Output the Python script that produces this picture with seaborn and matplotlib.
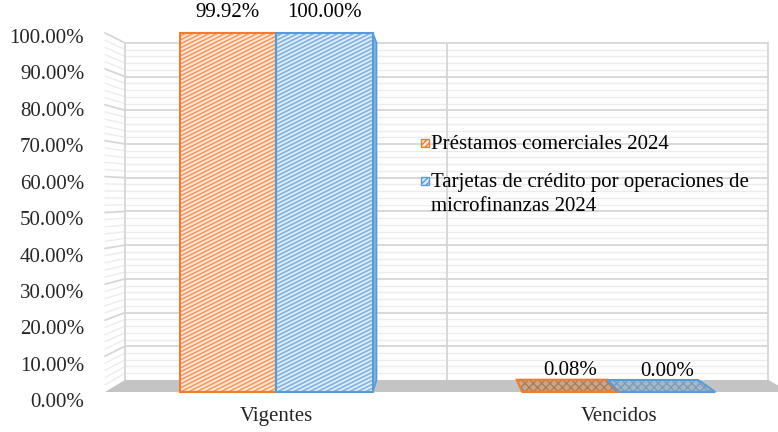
import numpy as np
import pandas as pd
import matplotlib
matplotlib.use("Agg")
import matplotlib.pyplot as plt
import seaborn as sns
from matplotlib.patches import Polygon, Rectangle
from matplotlib.lines import Line2D
from matplotlib.transforms import IdentityTransform, ScaledTranslation
from matplotlib.ticker import PercentFormatter, MultipleLocator

# ---- data -------------------------------------------------------------
categories = ["Vigentes", "Vencidos"]
series = ["Préstamos comerciales 2024",
          "Tarjetas de crédito por operaciones de microfinanzas 2024"]
legend_labels = ["Préstamos comerciales 2024",
                 "Tarjetas de crédito por operaciones de\nmicrofinanzas 2024"]
prestamos = [0.9992, 0.0008]
tarjetas = [1.0000, 0.0000]
y_ticks = [i / 10 for i in range(11)]

# ---- style ------------------------------------------------------------
edge_colors = ["#ED7D31", "#5B9BD5"]
face_colors = ["#fde6d6", "#dcebf8"]
side_colors = ["#f0a878", "#86b5e0"]
tile_colors = ["#c9a68b", "#a8b7c6"]
tile_hatch = ["#b07c55", "#7c9cbb"]
FS = 15

W, H, DPI = 778, 432, 100
sns.set_theme(style="white")
plt.rcParams["font.family"] = ["Liberation Serif", "DejaVu Serif"]
plt.rcParams["font.size"] = FS

df = pd.DataFrame({
    "Categoría": categories * 2,
    "Serie": [series[0]] * 2 + [series[1]] * 2,
    "Valor": prestamos + tarjetas,
})

fig = plt.figure(figsize=(W / DPI, H / DPI), dpi=DPI)
# front plane of the pseudo-3D box
ax = fig.add_axes([105 / W, (H - 392) / H, (790 - 105) / W, (392 - 33) / H])
sns.barplot(data=df, x="Categoría", y="Valor", hue="Serie",
            palette=face_colors, width=0.564, ax=ax, legend=False,
            errorbar=None, saturation=1)
ax.set_xlim(-0.5, 1.5)
ax.set_ylim(0, 1)
ax.set_xlabel("")
ax.set_ylabel("")
for sp in ax.spines.values():
    sp.set_visible(False)
ax.set_facecolor("none")
ax.yaxis.set_major_locator(MultipleLocator(0.1))
ax.yaxis.set_major_formatter(PercentFormatter(1.0, decimals=2))
ax.tick_params(axis="y", length=0, pad=15, labelsize=FS)
ax.tick_params(axis="x", length=0, pad=11, labelsize=FS)
ax.grid(False)

# perspective: points on the back plane shrink toward a vanishing point
VP = np.array([433.0, H - 195.0])
S = 0.939
ident = IdentityTransform()


def to_back(p):
    return VP + S * (np.asarray(p, float) - VP)


def disp(x, y):
    return ax.transData.transform((x, y))


# back wall, side wall and floor
x_lo, x_hi = ax.get_xlim()
floor = [disp(x_lo, 0), disp(x_hi, 0), to_back(disp(x_hi, 0)), to_back(disp(x_lo, 0))]
ax.add_patch(Polygon(floor, closed=True, transform=ident, facecolor="#c4c4c4",
                     edgecolor="none", zorder=0.3, clip_on=False))
for k in range(51):
    v = k / 50
    major = k % 5 == 0
    col = "#d6d6d6" if major else "#ececec"
    lw = 1.3 if major else 1.0
    fl, fr = disp(x_lo, v), disp(x_hi, v)
    bl, br = to_back(fl), to_back(fr)
    if k > 0:
        ax.add_line(Line2D([bl[0], br[0]], [bl[1], br[1]], transform=ident,
                           color=col, lw=lw, zorder=0.2, clip_on=False))
        ax.add_line(Line2D([fl[0], bl[0]], [fl[1], bl[1]], transform=ident,
                           color=col, lw=lw, zorder=0.2, clip_on=False))
for xv in (x_lo, 0.5, x_hi):
    b0, b1 = to_back(disp(xv, 0)), to_back(disp(xv, 1))
    ax.add_line(Line2D([b0[0], b1[0]], [b0[1], b1[1]], transform=ident,
                       color="#d6d6d6", lw=1.3, zorder=0.25, clip_on=False))


def add_stripes(patch, color):
    (x0, y0), (x1, y1) = ax.transData.transform(
        [(patch.get_x(), patch.get_y()),
         (patch.get_x() + patch.get_width(), patch.get_y() + patch.get_height())])
    if y1 - y0 < 2:
        return
    slope, step = 0.5, 4.0
    c = y0 - slope * x1
    while c < y1 - slope * x0:
        ln = Line2D([x0, x1], [c + slope * x0, c + slope * x1], transform=ident,
                    color=color, lw=1.1, alpha=0.75, zorder=3.1)
        ln.set_clip_path(patch)
        ax.add_line(ln)
        c += step


# bars: front face from seaborn, plus visible side/top faces
for ci, (cont, values) in enumerate(zip(ax.containers, [prestamos, tarjetas])):
    col = edge_colors[ci]
    for patch, val in zip(cont, values):
        patch.set_facecolor(face_colors[ci])
        patch.set_edgecolor("none")
        patch.set_zorder(3)
        x0 = patch.get_x()
        x1 = x0 + patch.get_width()
        h = patch.get_height()
        p00, p10, p11, p01 = disp(x0, 0), disp(x1, 0), disp(x1, h), disp(x0, h)
        b00, b10, b11, b01 = map(to_back, (p00, p10, p11, p01))
        if b10[0] > p10[0] and p11[1] - p10[1] > 1:
            ax.add_patch(Polygon([p10, p11, b11, b10], transform=ident,
                                 facecolor=side_colors[ci], edgecolor=col,
                                 lw=1.2, zorder=2.5, clip_on=False))
        if b01[1] > p01[1]:
            ax.add_patch(Polygon([p01, p11, b11, b01], transform=ident,
                                 facecolor=tile_colors[ci], edgecolor="none",
                                 zorder=2.5, clip_on=False))
            ax.add_patch(Polygon([p01, p11, b11, b01], transform=ident,
                                 facecolor="none", edgecolor=tile_hatch[ci],
                                 hatch="xxxx", lw=0, zorder=2.55, clip_on=False))
            ax.add_patch(Polygon([p01, p11, b11, b01], transform=ident,
                                 facecolor="none", edgecolor=col,
                                 lw=1.5, zorder=2.6, clip_on=False))
        add_stripes(patch, col)
        ax.add_patch(Rectangle((x0, 0), x1 - x0, h, facecolor="none",
                               edgecolor=col, lw=1.5, zorder=3.2, clip_on=False))
        ax.annotate(f"{val * 100:.2f}%", ((x0 + x1) / 2, h),
                    xytext=(0, 15), textcoords="offset points",
                    ha="center", va="center", fontsize=FS, color="#000000",
                    annotation_clip=False, zorder=5)

ax.set_yticks(y_ticks)
for lab, v in zip(ax.get_yticklabels(), y_ticks):
    off = ScaledTranslation(0, -(2 + 4 * (1 - v)) / 72, fig.dpi_scale_trans)
    lab.set_transform(lab.get_transform() + off)

# legend
leg_y = [143, 181]
for i, lab in enumerate(legend_labels):
    yc = H - leg_y[i]
    fig.patches.append(Rectangle((421 / W, (yc - 4) / H), 8 / W, 8 / H,
                                 transform=fig.transFigure,
                                 facecolor=face_colors[i], edgecolor=edge_colors[i],
                                 hatch="//////", lw=1.0, zorder=5))
    fig.text(431 / W, (yc + 8) / H, lab, ha="left", va="top", fontsize=FS,
             linespacing=1.35, color="#000000")

fig.savefig("out.png", dpi=DPI)
